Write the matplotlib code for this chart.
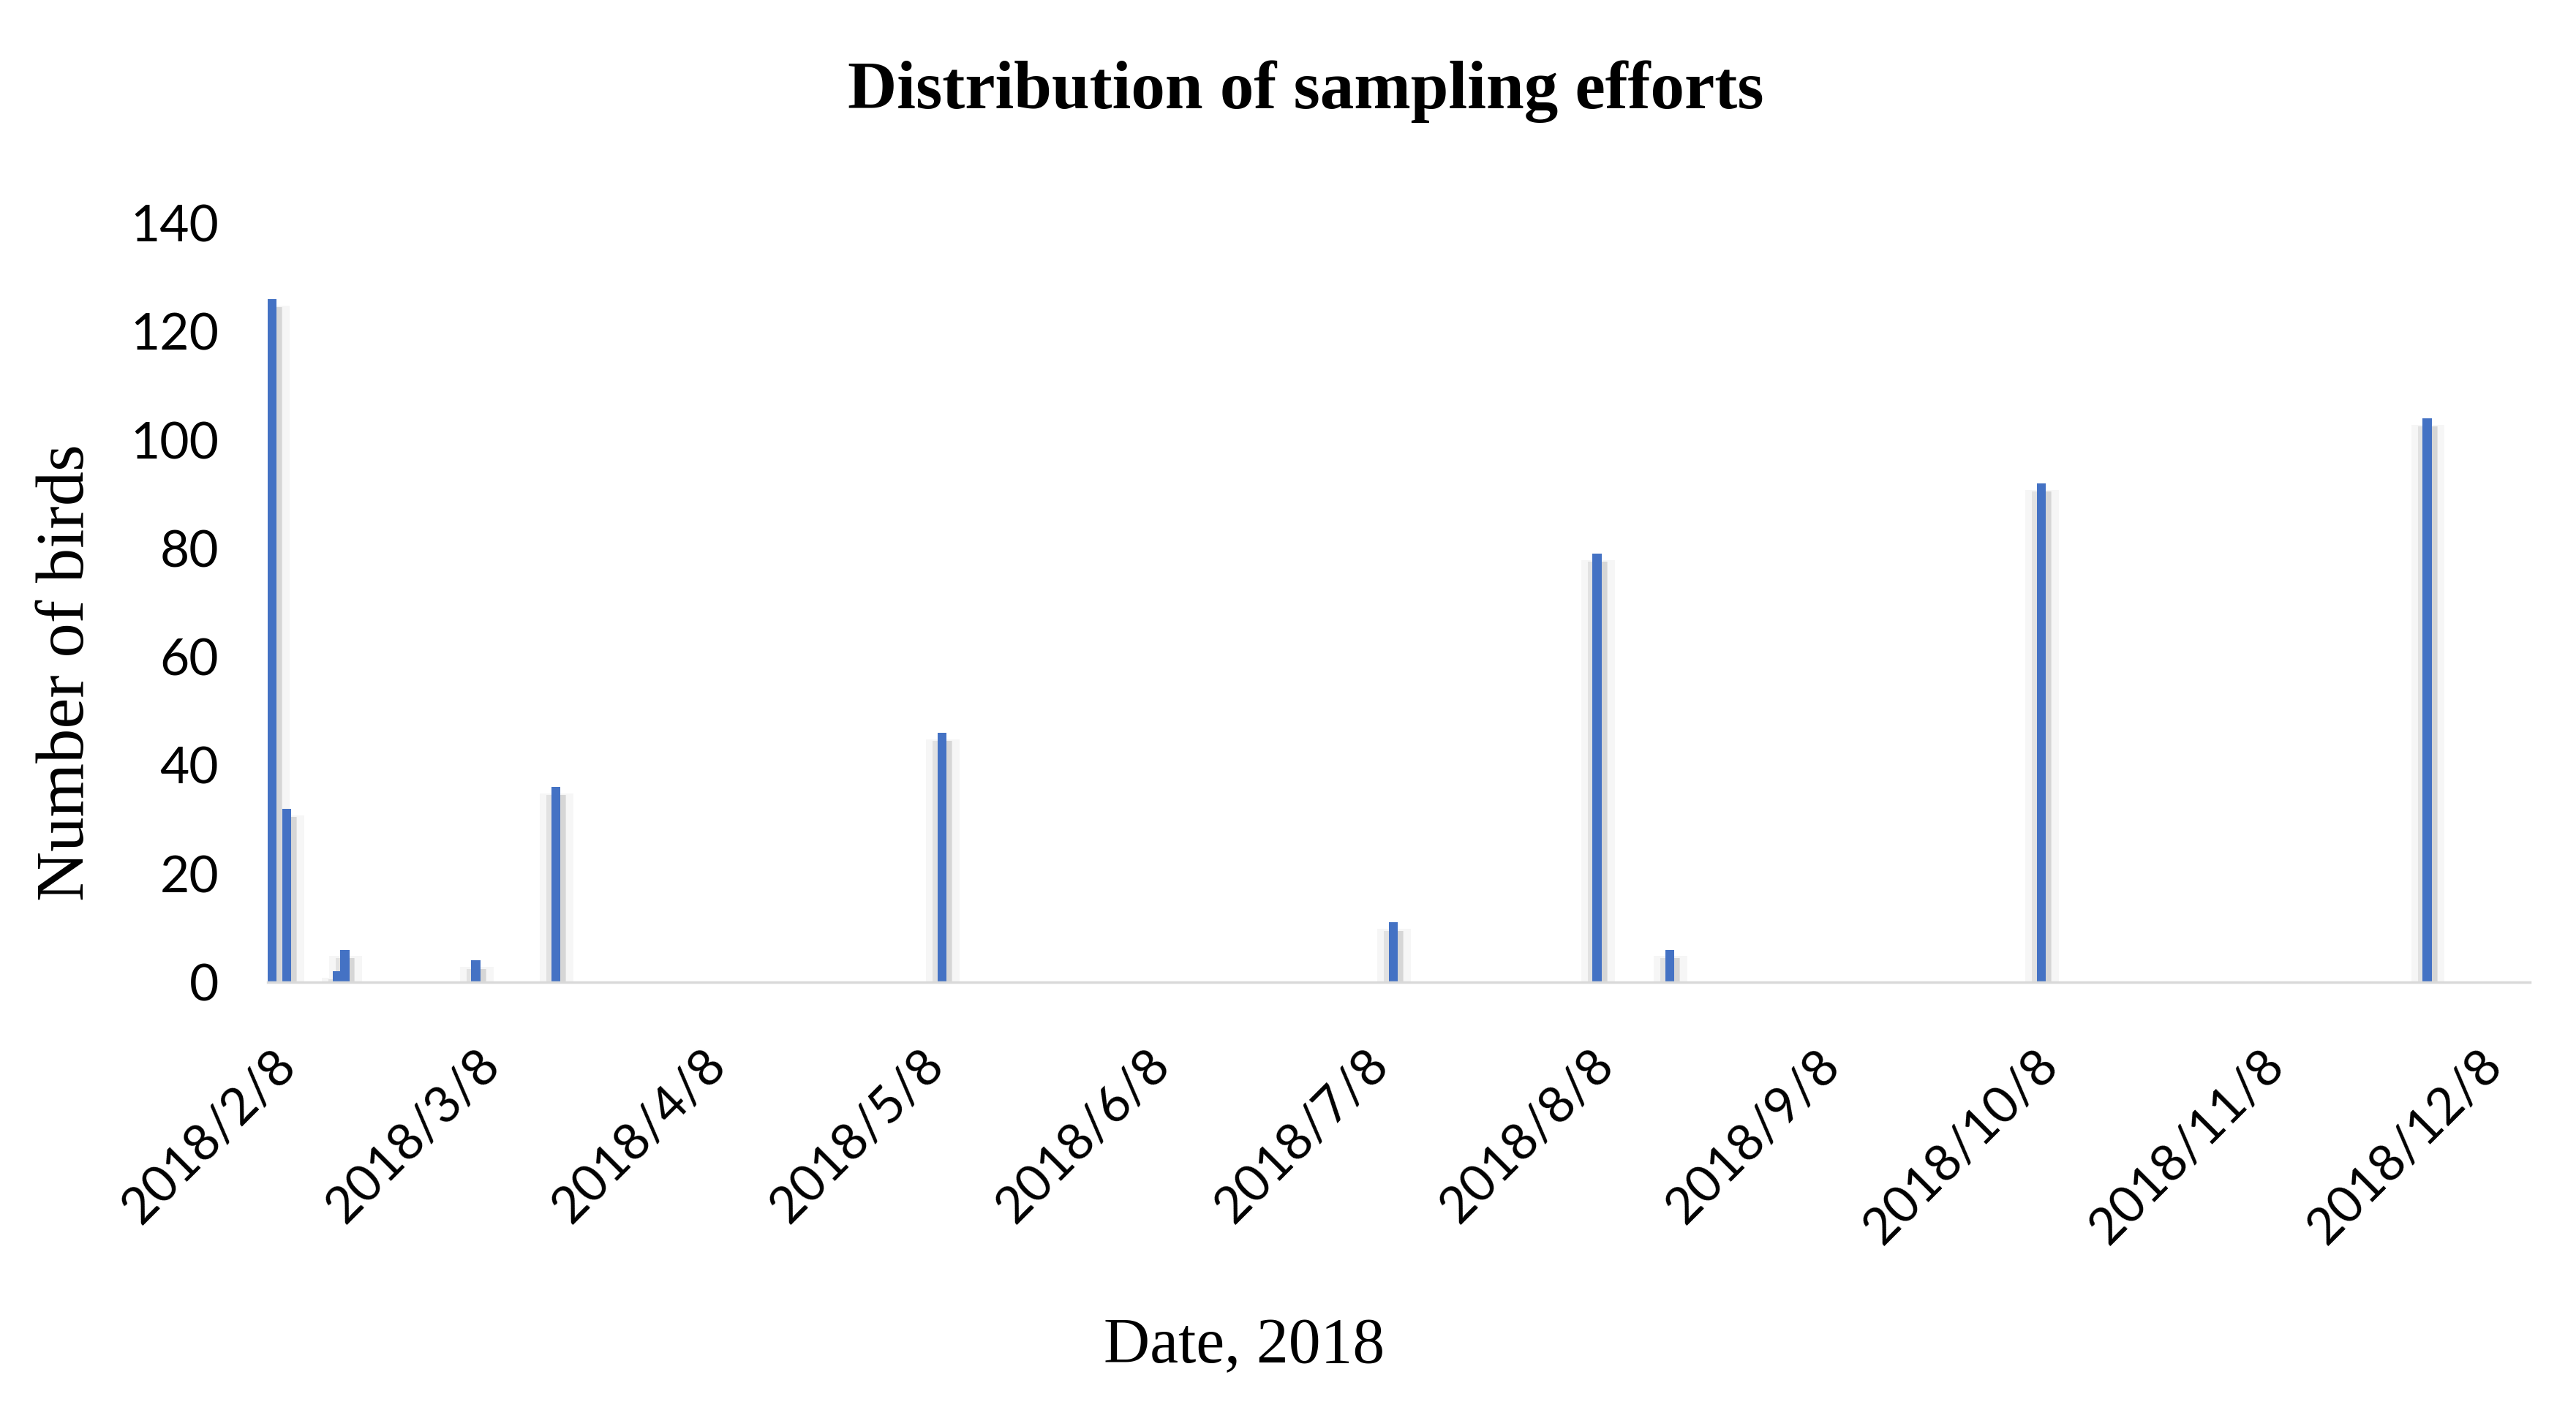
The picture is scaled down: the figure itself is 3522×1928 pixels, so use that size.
# bar chart of sampling effort per date (number of birds)
import datetime as dt
import matplotlib
matplotlib.use("Agg")
import matplotlib.pyplot as plt
import matplotlib.dates as mdates

# sampling dates and bird counts
dates = ["2018-02-08", "2018-02-10", "2018-02-17", "2018-02-18", "2018-03-08",
         "2018-03-19", "2018-05-11", "2018-07-12", "2018-08-09", "2018-08-19",
         "2018-10-09", "2018-12-01"]
birds = [126, 32, 2, 6, 4, 36, 46, 11, 79, 6, 92, 104]

tick_dates = ["2018-02-08", "2018-03-08", "2018-04-08", "2018-05-08", "2018-06-08",
              "2018-07-08", "2018-08-08", "2018-09-08", "2018-10-08", "2018-11-08",
              "2018-12-08"]
y_ticks = [0, 20, 40, 60, 80, 100, 120, 140]

x = [dt.datetime.strptime(d, "%Y-%m-%d") for d in dates]
xt = [dt.datetime.strptime(d, "%Y-%m-%d") for d in tick_dates]

sans = "Lato"
serif = "Liberation Serif"

fig = plt.figure(figsize=(35.22, 19.28), dpi=100)
ax = fig.add_axes([0.1039, 0.3034, 0.8782, 0.5384])

xn = mdates.date2num(x)
# soft shadow around each bar (a bit darker on the right)
ax.bar(xn + 0.1, [b - 0.6 for b in birds], width=4.6, bottom=-0.6,
       color="#f6f6f6", zorder=1)
ax.bar(xn + 0.05, [b - 0.9 for b in birds], width=2.7, bottom=-0.6,
       color="#e2e2e2", zorder=2)
ax.bar(xn + 0.7, [b - 0.9 for b in birds], width=1.2, bottom=-0.6,
       color="#d6d6d6", zorder=2)
ax.bar(xn, birds, width=1.25, color="#4472C4", zorder=3)

ax.set_xlim(mdates.date2num(x[0]) - 0.6, mdates.date2num(x[0]) + 310.1)
ax.set_ylim(0, 140)

ax.set_yticks(y_ticks)
ax.set_yticklabels([str(v) for v in y_ticks], fontsize=50, family=sans)
ax.set_xticks(mdates.date2num(xt))
ax.set_xticklabels(["%d/%d/%d" % (d.year, d.month, d.day) for d in xt],
                   fontsize=50, family=sans, rotation=45, ha="right",
                   rotation_mode="anchor")
ax.tick_params(axis="both", length=0)
ax.tick_params(axis="x", pad=58)
ax.tick_params(axis="y", pad=48)

for s in ["top", "right", "left"]:
    ax.spines[s].set_visible(False)
ax.spines["bottom"].set_color("#d9d9d9")
ax.spines["bottom"].set_linewidth(2.5)
ax.spines["bottom"].set_zorder(4)

fig.text(0.507, 0.935, "Distribution of sampling efforts", ha="center", va="center",
         fontsize=67, fontweight="bold", family=serif)
fig.text(0.026, 0.523, "Number of birds", ha="center", va="center", rotation=90,
         fontsize=68, family=serif)
fig.text(0.483, 0.045, "Date, 2018", ha="center", va="center",
         fontsize=63, family=serif)

fig.savefig("out.png", dpi=100, facecolor="white")
